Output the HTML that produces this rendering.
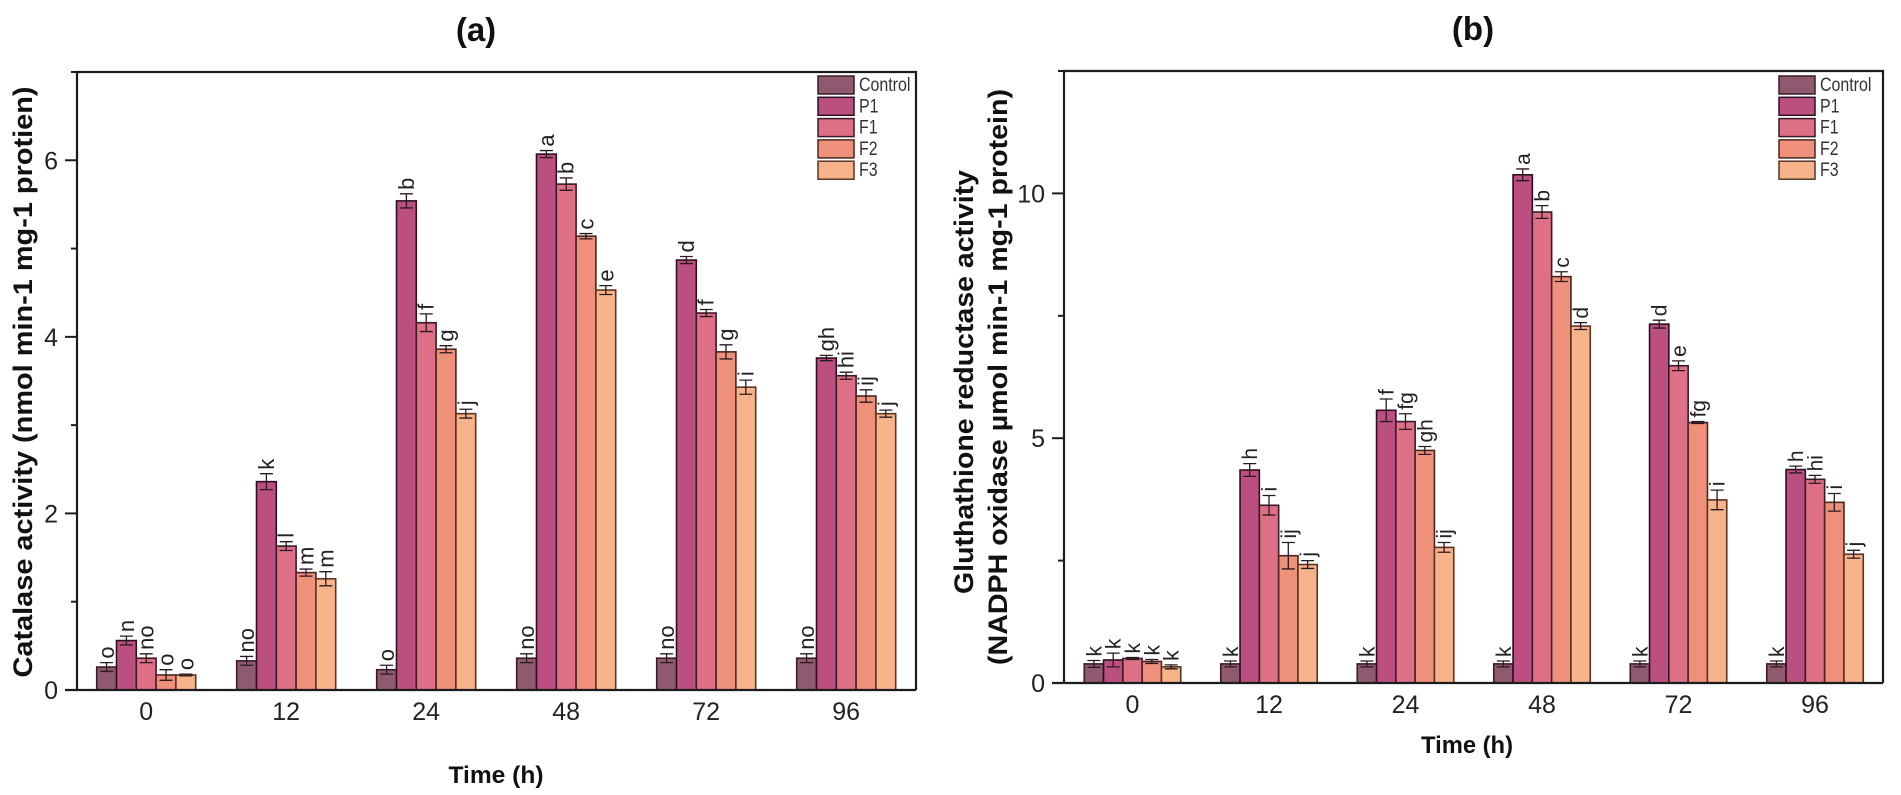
<!DOCTYPE html>
<html lang="en">
<head>
<meta charset="utf-8">
<title>Catalase and glutathione reductase activity</title>
<style>
html,body{margin:0;padding:0;background:#fff;width:1901px;height:795px;overflow:hidden}
svg{display:block;font-family:"Liberation Sans",Arial,sans-serif;filter:blur(.35px)}
</style>
</head>
<body>
<svg id="figure" xmlns="http://www.w3.org/2000/svg" width="1901" height="795" viewBox="0 0 1901 795">
  <rect width="1901" height="795" fill="#fff"/>
  <text x="476" y="41" font-size="33" font-weight="700" text-anchor="middle" fill="#111">(a)</text>
  <text x="1473" y="40" font-size="33" font-weight="700" text-anchor="middle" fill="#111">(b)</text>
  <text transform="translate(32 382) rotate(-90)" font-size="27" font-weight="700" text-anchor="middle" textLength="591" lengthAdjust="spacingAndGlyphs" fill="#111">Catalase activity (nmol min-1 mg-1 protien)</text>
  <text transform="translate(973 382) rotate(-90)" font-size="27" font-weight="700" text-anchor="middle" textLength="424" lengthAdjust="spacingAndGlyphs" fill="#111">Gluthathione reductase activity</text>
  <text transform="translate(1007 377) rotate(-90)" font-size="27" font-weight="700" text-anchor="middle" textLength="576" lengthAdjust="spacingAndGlyphs" fill="#111">(NADPH oxidase µmol min-1 mg-1 protein)</text>
  <text x="496" y="783" font-size="24" font-weight="700" text-anchor="middle" textLength="95" lengthAdjust="spacingAndGlyphs" fill="#111">Time (h)</text>
  <text x="1467" y="753" font-size="24" font-weight="700" text-anchor="middle" textLength="92" lengthAdjust="spacingAndGlyphs" fill="#111">Time (h)</text>
  <g id="chart-a"></g>
  <g id="chart-b"></g>
</svg>
<script>
// Shared categories
const timeLabels = ["0", "12", "24", "48", "72", "96"];
const seriesNames = ["Control", "P1", "F1", "F2", "F3"];
const seriesColors = ["#8f5a70", "#bb5080", "#dd6f87", "#ef907a", "#f7b38a"];
const seriesStrokes = ["#3b1a28", "#2e0f20", "#3b1a28", "#4a2420", "#5a3525"];

// Panel (a): catalase activity
const catalaseControl = [0.26, 0.33, 0.23, 0.36, 0.36, 0.36];
const catalaseP1 = [0.56, 2.36, 5.54, 6.07, 4.87, 3.76];
const catalaseF1 = [0.36, 1.63, 4.16, 5.73, 4.27, 3.56];
const catalaseF2 = [0.17, 1.33, 3.86, 5.14, 3.83, 3.33];
const catalaseF3 = [0.17, 1.26, 3.13, 4.53, 3.43, 3.13];
const catalaseControlErr = [0.05, 0.05, 0.05, 0.05, 0.05, 0.05];
const catalaseP1Err = [0.05, 0.09, 0.08, 0.04, 0.04, 0.03];
const catalaseF1Err = [0.05, 0.05, 0.10, 0.07, 0.04, 0.04];
const catalaseF2Err = [0.06, 0.04, 0.04, 0.03, 0.08, 0.07];
const catalaseF3Err = [0.01, 0.08, 0.05, 0.05, 0.08, 0.04];
const catalaseControlLetters = ["o", "no", "o", "no", "no", "no"];
const catalaseP1Letters = ["n", "k", "b", "a", "d", "gh"];
const catalaseF1Letters = ["no", "l", "f", "b", "f", "hi"];
const catalaseF2Letters = ["o", "m", "g", "c", "g", "ij"];
const catalaseF3Letters = ["o", "m", "j", "e", "i", "j"];
const catalaseMajorTicks = [0, 2, 4, 6];
const catalaseMinorTicks = [1, 3, 5, 7];

// Panel (b): glutathione reductase activity
const reductaseControl = [0.39, 0.39, 0.39, 0.39, 0.39, 0.39];
const reductaseP1 = [0.47, 4.35, 5.57, 10.38, 7.33, 4.36];
const reductaseF1 = [0.50, 3.63, 5.34, 9.62, 6.48, 4.16];
const reductaseF2 = [0.44, 2.60, 4.75, 8.30, 5.32, 3.69];
const reductaseF3 = [0.33, 2.42, 2.77, 7.29, 3.74, 2.63];
const reductaseControlErr = [0.07, 0.06, 0.06, 0.06, 0.06, 0.06];
const reductaseP1Err = [0.14, 0.13, 0.23, 0.12, 0.08, 0.07];
const reductaseF1Err = [0.02, 0.20, 0.16, 0.13, 0.10, 0.08];
const reductaseF2Err = [0.04, 0.27, 0.08, 0.10, 0.02, 0.18];
const reductaseF3Err = [0.04, 0.08, 0.10, 0.07, 0.20, 0.08];
const reductaseControlLetters = ["k", "k", "k", "k", "k", "k"];
const reductaseP1Letters = ["k", "h", "f", "a", "d", "h"];
const reductaseF1Letters = ["k", "i", "fg", "b", "e", "hi"];
const reductaseF2Letters = ["k", "ij", "gh", "c", "fg", "i"];
const reductaseF3Letters = ["k", "j", "ij", "d", "i", "j"];
const reductaseMajorTicks = [0, 5, 10];
const reductaseMinorTicks = [2.5, 7.5, 12.5];

const SVG_NS = "http://www.w3.org/2000/svg";

function make(parent, tag, attrs, text) {
  const node = document.createElementNS(SVG_NS, tag);
  for (const key in attrs) node.setAttribute(key, attrs[key]);
  if (text !== undefined) node.textContent = text;
  parent.appendChild(node);
  return node;
}

function drawPanel(cfg) {
  const root = document.getElementById(cfg.id);
  const yScale = v => cfg.bottom - (v / cfg.yMax) * (cfg.bottom - cfg.top);
  const groupCenter = i => cfg.firstCenter + i * cfg.groupStep;
  const barX = (i, s) => groupCenter(i) + (s - seriesNames.length / 2) * cfg.barWidth;
  let el;

  // Frame and axes
  el = make(root, "path", {
    d: "M" + cfg.left + " " + cfg.bottom + "V" + cfg.top + "H" + cfg.right + "V" + cfg.bottom,
    fill: "none", stroke: "#1c1c1c", "stroke-width": 2.2
  });
  
  

  // Y ticks
  cfg.majorTicks.forEach(t => {
    const tick = make(root, "line", {
      x1: cfg.left - 12, x2: cfg.left, y1: yScale(t), y2: yScale(t), stroke: "#1c1c1c", "stroke-width": 2
    });
    
    
    const label = make(root, "text", {
      x: cfg.left - 19, y: yScale(t) + 9, "font-size": 25, "text-anchor": "end", fill: "#222"
    }, String(t));
    
    
  });
  cfg.minorTicks.forEach(t => {
    const tick = make(root, "line", {
      x1: cfg.left - 6, x2: cfg.left, y1: yScale(t), y2: yScale(t), stroke: "#1c1c1c", "stroke-width": 2
    });
    
    
  });

  // Bars, error bars and significance letters
  timeLabels.forEach((name, i) => {
    seriesNames.forEach((sName, s) => {
      const v = cfg.values[s][i];
      const e = cfg.errors[s][i];
      const x = barX(i, s);
      const bar = make(root, "rect", {
        x: x, y: yScale(v), width: cfg.barWidth, height: cfg.bottom - yScale(v),
        fill: seriesColors[s], stroke: seriesStrokes[s], "stroke-width": 1.6
      });
      
      

      const cx = x + cfg.barWidth / 2;
      const err = make(root, "path", {
        d: "M" + (cx - 6.5) + " " + yScale(v + e) + "H" + (cx + 6.5) +
           "M" + cx + " " + yScale(v + e) + "V" + yScale(v - e) +
           "M" + (cx - 6.5) + " " + yScale(v - e) + "H" + (cx + 6.5),
        fill: "none", stroke: "#2a1a20", "stroke-width": 1.3
      });
      
      

      const ly = yScale(v + e) - 4;
      const lx = cx + 7.5;
      const letter = make(root, "text", {
        transform: "rotate(-90 " + lx + " " + ly + ")",
        x: lx, y: ly, "font-size": cfg.letterSize, fill: "#222"
      }, cfg.letters[s][i]);
      
      
    });

    const label = make(root, "text", {
      x: groupCenter(i), y: cfg.xLabelY, "font-size": 25, "text-anchor": "middle", fill: "#222"
    }, name);
    
    
  });

  // X axis drawn over the bar bases
  el = make(root, "line", {
    x1: cfg.left - 12, x2: cfg.right, y1: cfg.bottom, y2: cfg.bottom, stroke: "#1c1c1c", "stroke-width": 2.2
  });
  
  

  // Legend
  seriesNames.forEach((sName, s) => {
    const swatchY = 76 + s * 21.3;
    const swatch = make(root, "rect", {
      x: cfg.legendX, y: swatchY, width: 36, height: 18,
      fill: seriesColors[s], stroke: seriesStrokes[s], "stroke-width": 1.5
    });
    
    
    const label = make(root, "text", {
      transform: "translate(" + (cfg.legendX + 41) + " " + (swatchY + 15) + ") scale(.84 1)",
      "font-size": 19, fill: "#333"
    }, sName);
    
    
  });
}

drawPanel({
  id: "chart-a", left: 77, right: 916, top: 72, bottom: 690, yMax: 7,
  firstCenter: 146.2, groupStep: 140, barWidth: 19.8, xLabelY: 720,
  legendX: 818, letterSize: 22,
  majorTicks: catalaseMajorTicks, minorTicks: catalaseMinorTicks,
  values: [catalaseControl, catalaseP1, catalaseF1, catalaseF2, catalaseF3],
  errors: [catalaseControlErr, catalaseP1Err, catalaseF1Err, catalaseF2Err, catalaseF3Err],
  letters: [catalaseControlLetters, catalaseP1Letters, catalaseF1Letters, catalaseF2Letters, catalaseF3Letters]
});

drawPanel({
  id: "chart-b", left: 1064, right: 1883, top: 71, bottom: 683, yMax: 12.5,
  firstCenter: 1132.5, groupStep: 136.5, barWidth: 19.3, xLabelY: 713,
  legendX: 1779, letterSize: 21,
  majorTicks: reductaseMajorTicks, minorTicks: reductaseMinorTicks,
  values: [reductaseControl, reductaseP1, reductaseF1, reductaseF2, reductaseF3],
  errors: [reductaseControlErr, reductaseP1Err, reductaseF1Err, reductaseF2Err, reductaseF3Err],
  letters: [reductaseControlLetters, reductaseP1Letters, reductaseF1Letters, reductaseF2Letters, reductaseF3Letters]
});
</script>
</body>
</html>
